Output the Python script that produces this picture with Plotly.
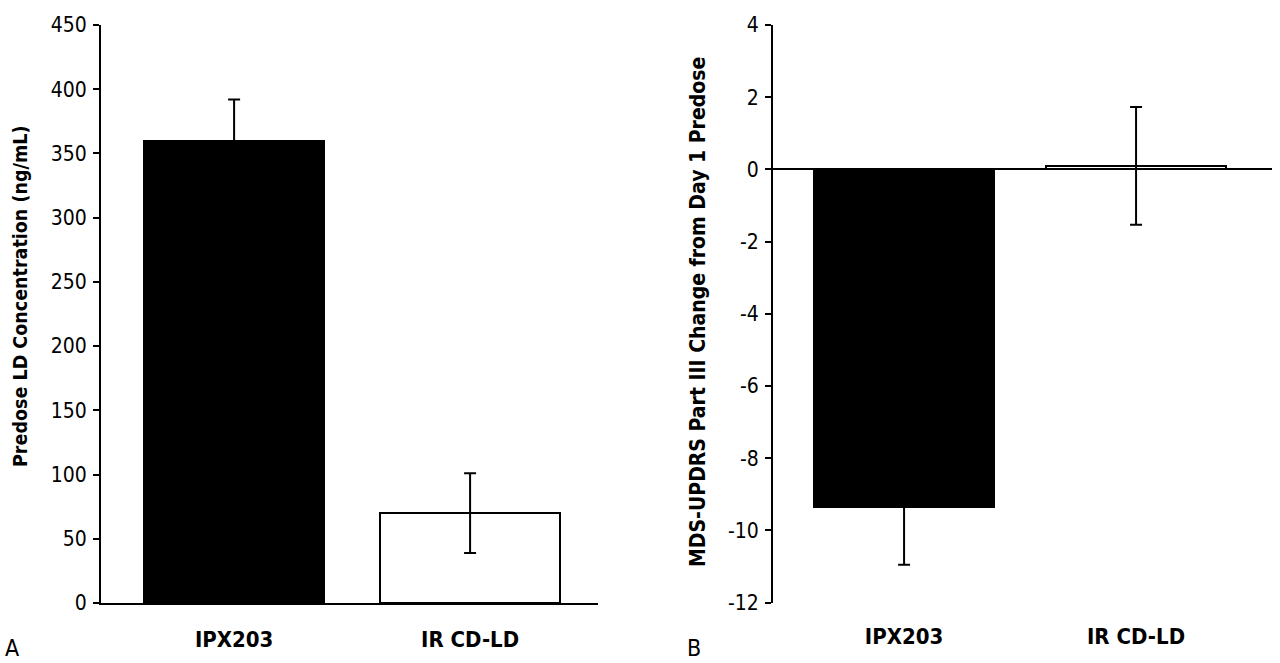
import plotly.graph_objects as go

categories = ["IPX203", "IR CD-LD"]
ld_conc = [360, 70]
ld_err = [32, 31]
updrs_change = [-9.35, 0.1]
updrs_err = [1.6, 1.63]
bar_colors = ["black", "white"]

ld_ticks = [0, 50, 100, 150, 200, 250, 300, 350, 400, 450]
updrs_ticks = [-12, -10, -8, -6, -4, -2, 0, 2, 4]
updrs_ticktext = [str(v) for v in updrs_ticks]  # hyphen minus as in the original

FONT = "DejaVu Sans Condensed, Liberation Sans, sans-serif"
fig = go.Figure()

fig.add_trace(go.Bar(
    x=categories, y=ld_conc, xaxis="x", yaxis="y", width=0.76,
    marker=dict(color=bar_colors, line=dict(color="black", width=2)),
    error_y=dict(type="data", array=ld_err, color="black", thickness=2, width=6),
    showlegend=False))

fig.add_trace(go.Bar(
    x=categories, y=updrs_change, xaxis="x2", yaxis="y2", width=0.776,
    marker=dict(color=bar_colors, line=dict(color="black", width=2)),
    error_y=dict(type="data", array=updrs_err, color="black", thickness=2, width=6),
    showlegend=False))

fig.update_layout(
    width=1280, height=663, margin=dict(l=0, r=0, t=0, b=0, autoexpand=False),
    paper_bgcolor="white", plot_bgcolor="white", showlegend=False,
    font=dict(family=FONT, color="black"),
    xaxis=dict(domain=[101/1280, 598/1280], anchor="y", range=[-0.564, 1.542],
               showline=True, linecolor="black", linewidth=2, showgrid=False,
               ticks="", ticklabelstandoff=16, automargin=False,
               tickfont=dict(size=22, weight="bold", color="black")),
    yaxis=dict(domain=[1 - 603/663, 1 - 25/663], anchor="x", range=[0, 450],
               tickvals=ld_ticks, showline=True, linecolor="black", linewidth=2,
               showgrid=False, zeroline=False, automargin=False,
               ticks="outside", ticklen=6, tickwidth=2, tickcolor="black",
               tickfont=dict(size=21, color="black"), ticklabelstandoff=2),
    xaxis2=dict(domain=[773/1280, 1272/1280], anchor="y2", range=[-0.565, 1.586],
                showline=False, showgrid=False, ticks="", ticklabelstandoff=18,
                automargin=False, zeroline=False,
                tickfont=dict(size=22, weight="bold", color="black")),
    yaxis2=dict(domain=[1 - 602.7/663, 1 - 25/663], anchor="x2", range=[-12, 4],
                tickvals=updrs_ticks, ticktext=updrs_ticktext,
                showline=True, linecolor="black", linewidth=2, showgrid=False,
                ticks="outside", ticklen=6, tickwidth=2, tickcolor="black",
                tickfont=dict(size=21, color="black"), automargin=False,
                zeroline=True, zerolinecolor="black", zerolinewidth=2,
                ticklabelstandoff=2),
    bargap=0,
)

fig.add_annotation(text="Predose LD Concentration (ng/mL)", textangle=-90,
                   x=20/1280, y=1 - 297/663, xref="paper", yref="paper",
                   xanchor="center", yanchor="middle",
                   showarrow=False, font=dict(size=19.5, weight="bold"))
fig.add_annotation(text="MDS-UPDRS Part III Change from Day 1 Predose", textangle=-90,
                   x=698/1280, y=1 - 312/663, xref="paper", yref="paper",
                   xanchor="center", yanchor="middle",
                   showarrow=False, font=dict(size=21, weight="bold"))
fig.add_annotation(text="A", x=12/1280, y=0, xref="paper", yref="paper",
                   xanchor="center", yanchor="bottom",
                   showarrow=False, font=dict(size=23))
fig.add_annotation(text="B", x=694/1280, y=0, xref="paper", yref="paper",
                   xanchor="center", yanchor="bottom",
                   showarrow=False, font=dict(size=23))

fig.write_html("out.html")
